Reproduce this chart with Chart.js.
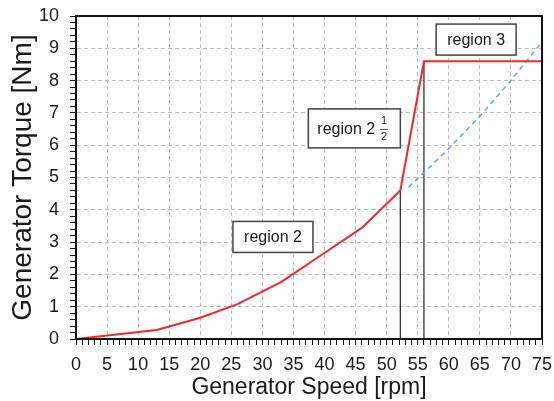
<!DOCTYPE html>
<html>
<head>
<meta charset="utf-8">
<script src="https://cdn.jsdelivr.net/npm/chart.js@4/dist/chart.umd.min.js"></script>
<style>
  body { margin: 0; background: #fff; }
  #wrap { width: 554px; height: 401px; }
</style>
</head>
<body>
<div id="wrap"><canvas id="grafico"></canvas></div>
<script>
// curva de torque do gerador
const speed = [0, 13, 20, 26, 33, 39.5, 46, 52.2, 56, 75]
const torque = [0, 0.28, 0.66, 1.08, 1.76, 2.6, 3.44, 4.6, 8.6, 8.6]

// continuação da curva ótima (tracejada)
const optSpeed = [53.5, 56, 60, 65, 70, 75]
const optTorque = [4.7, 5.15, 5.9, 6.9, 8.0, 9.2]

// linhas verticais nas transições
const limitSpeed = [52.2, 56]
const limitTorque = [4.6, 8.6]

// caixas de texto: centro em unidades do gráfico
const regionNames = ['region 3', 'region 2', 'region 2']
const regionX = [64.4, 44.8, 31.7]
const regionY = [9.27, 6.52, 3.16]
const regionHalf = [false, true, false]

const xTitle = 'Generator Speed [rpm]'
const yTitle = 'Generator Torque [Nm]'

const FONT = "'Liberation Sans', Arial, sans-serif"
Chart.defaults.font.family = FONT
Chart.defaults.color = '#1a1a1a'

const pts = (xs, ys) => xs.map((x, i) => ({x, y: ys[i]}))

const datasets = [{
  data: pts(speed, torque),
  borderColor: '#f0282d',
  borderWidth: 2,
  pointRadius: 0,
  tension: 0
}, {
  data: pts(optSpeed, optTorque),
  borderColor: '#6aa6e0',
  borderWidth: 1.5,
  borderDash: [5, 4],
  pointRadius: 0
}]
limitSpeed.forEach((s, i) => {
  datasets.push({
    data: [{x: s, y: 0}, {x: s, y: limitTorque[i]}],
    borderColor: '#333',
    borderWidth: 1.3,
    pointRadius: 0
  })
})

const isInt = v => Math.abs(v - Math.round(v)) < 1e-6

// moldura e caixas de texto
const extras = {
  id: 'extras',
  afterDatasetsDraw(chart) {
    const {ctx, chartArea: a, scales: {x, y}} = chart
    ctx.save()
    ctx.strokeStyle = '#111'
    ctx.lineWidth = 2
    ctx.strokeRect(a.left, a.top, a.right - a.left, a.bottom - a.top)

    regionNames.forEach((name, i) => {
      const cx = x.getPixelForValue(regionX[i])
      const cy = y.getPixelForValue(regionY[i])
      const half = regionHalf[i]
      const w = half ? 92 : 80
      const h = half ? 39 : 31
      ctx.fillStyle = '#fff'
      ctx.fillRect(cx - w / 2, cy - h / 2, w, h)
      ctx.strokeStyle = '#444'
      ctx.lineWidth = 1.5
      ctx.strokeRect(cx - w / 2, cy - h / 2, w, h)
      ctx.fillStyle = '#1a1a1a'
      ctx.font = '16px ' + FONT
      ctx.textBaseline = 'middle'
      if (!half) {
        ctx.textAlign = 'center'
        ctx.fillText(name, cx, cy + 1)
      } else {
        ctx.textAlign = 'left'
        const tx = cx - 37
        ctx.fillText(name, tx, cy + 1)
        const fx = tx + ctx.measureText(name).width + 9
        ctx.font = '11px ' + FONT
        ctx.textAlign = 'center'
        ctx.fillText('1', fx, cy - 7)
        ctx.fillText('2', fx, cy + 9)
        ctx.lineWidth = 0.8
        ctx.strokeStyle = '#1a1a1a'
        ctx.beginPath()
        ctx.moveTo(fx - 4, cy + 1)
        ctx.lineTo(fx + 4, cy + 1)
        ctx.stroke()
      }
    })
    ctx.restore()
  }
}

const config = {
  type: 'line',
  data: {datasets},
  options: {
    responsive: true,
    maintainAspectRatio: false,
    animation: false,
    layout: {padding: {top: 16, right: 12}},
    plugins: {legend: {display: false}, tooltip: {enabled: false}},
    scales: {
      x: {
        type: 'linear',
        min: 0, max: 75,
        ticks: {
          stepSize: 1,
          autoSkip: false,
          maxRotation: 0,
          padding: 9,
          font: {size: 18},
          callback: v => v % 5 === 0 ? String(v) : ''
        },
        grid: {
          color: c => (c.tick && c.tick.value % 5 === 0) ? '#bdbdbd' : 'rgba(0,0,0,0)',
          lineWidth: 1,
          tickColor: '#111',
          tickLength: 6,
          tickWidth: 1
        },
        border: {color: '#111', width: 2, dash: [4, 3]},
        title: {display: true, text: xTitle, font: {size: 23}, padding: {top: 0, bottom: 0}},
        afterFit: s => {
          s.height = 62
          s.paddingLeft = 0
          s.paddingRight = 0
        }
      },
      y: {
        min: 0, max: 10,
        ticks: {
          stepSize: 0.2,
          autoSkip: false,
          padding: 11,
          font: {size: 18},
          callback: v => isInt(v) ? String(Math.round(v)) : ''
        },
        grid: {
          color: c => (c.tick && isInt(c.tick.value)) ? '#bdbdbd' : 'rgba(0,0,0,0)',
          lineWidth: 1,
          tickColor: '#111',
          tickLength: 6,
          tickWidth: 1
        },
        border: {color: '#111', width: 2, dash: [4, 3]},
        title: {display: true, text: yTitle, font: {size: 28}, padding: {top: 6, bottom: 0}},
        afterFit: s => {
          s.width = 76
          s.paddingTop = 0
          s.paddingBottom = 0
        }
      }
    }
  },
  plugins: [extras]
}

const graph = new Chart(document.getElementById('grafico'), config)
</script>
</body>
</html>
